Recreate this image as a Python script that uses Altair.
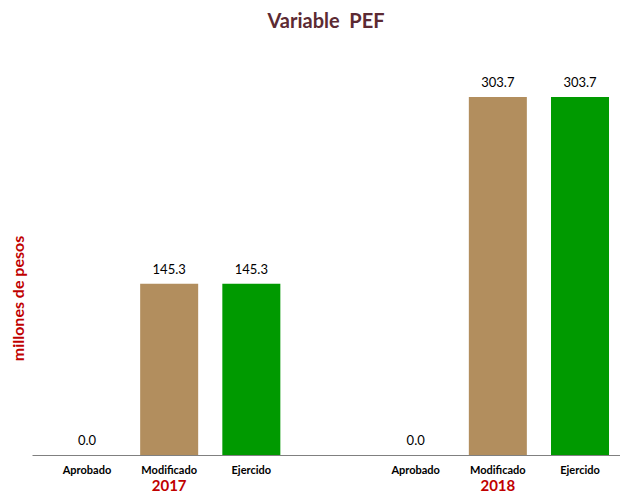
import altair as alt
import pandas as pd

years = ["2017", "2017", "2017", "2018", "2018", "2018"]
categories = ["Aprobado", "Modificado", "Ejercido", "Aprobado", "Modificado", "Ejercido"]
values = [0.0, 145.3, 145.3, 0.0, 303.7, 303.7]
year_labels = ["2017", "2018"]
cat_colors = {"Aprobado": "#7F7F7F", "Modificado": "#B28E5E", "Ejercido": "#009A00"}

slots = [f"{y}|{c}" for y, c in zip(years, categories)]
domain = slots[:3] + ["gap|"] + slots[3:]

df = pd.DataFrame({"slot": slots, "year": years, "cat": categories, "value": values})
ydf = pd.DataFrame({"slot": [f"{y}|Modificado" for y in year_labels], "year": year_labels})

FONT = "Lato"
W, H = 588, 395

xscale = alt.Scale(domain=domain, paddingInner=0.294, paddingOuter=0.225, align=0.703)
xaxis = alt.Axis(
    title=None, ticks=False, domainColor="#808080", domainWidth=1,
    labelExpr="split(datum.value, '|')[1]", labelAngle=0, labelFont=FONT,
    labelFontWeight="bold", labelFontSize=11, labelColor="#000000", labelPadding=9,
)
yscale = alt.Scale(domain=[0, 335])
yaxis = alt.Axis(
    title="millones de pesos", labels=False, ticks=False, domain=False, grid=False,
    titleFont=FONT, titleFontSize=16, titleFontWeight="bold", titleColor="#C00000",
    titleX=-14, titleY=238, titleBaseline="middle", titleAlign="center", titleAngle=-90,
)

base = alt.Chart(df)
bars = base.mark_bar().encode(
    x=alt.X("slot:N", scale=xscale, axis=xaxis),
    y=alt.Y("value:Q", scale=yscale, axis=yaxis),
    color=alt.Color("cat:N", scale=alt.Scale(domain=list(cat_colors.keys()), range=list(cat_colors.values())), legend=None),
)
labels = base.mark_text(baseline="middle", dy=-14, fontSize=13, font=FONT, color="#000000").encode(
    x=alt.X("slot:N", scale=xscale),
    y=alt.Y("value:Q", scale=yscale),
    text=alt.Text("value:Q", format=".1f"),
)
yr = alt.Chart(ydf).mark_text(baseline="middle", fontSize=15, font=FONT, fontWeight="bold", color="#C00000").encode(
    x=alt.X("slot:N", scale=xscale),
    y=alt.value(H + 31),
    text="year:N",
)

chart = alt.layer(bars, labels, yr).properties(
    width=W, height=H,
    title=alt.TitleParams("Variable\u00a0\u00a0PEF", font=FONT, fontSize=20, fontWeight="bold",
                          color="#5C2A33", anchor="middle", offset=28),
    autosize=alt.AutoSizeParams(type="none"),
    padding={"left": 24, "top": 52, "right": 0, "bottom": 40},
).configure_view(stroke=None).configure_axis(grid=False)

chart.save("out.html", embed_options={"renderer": "svg", "actions": False})
